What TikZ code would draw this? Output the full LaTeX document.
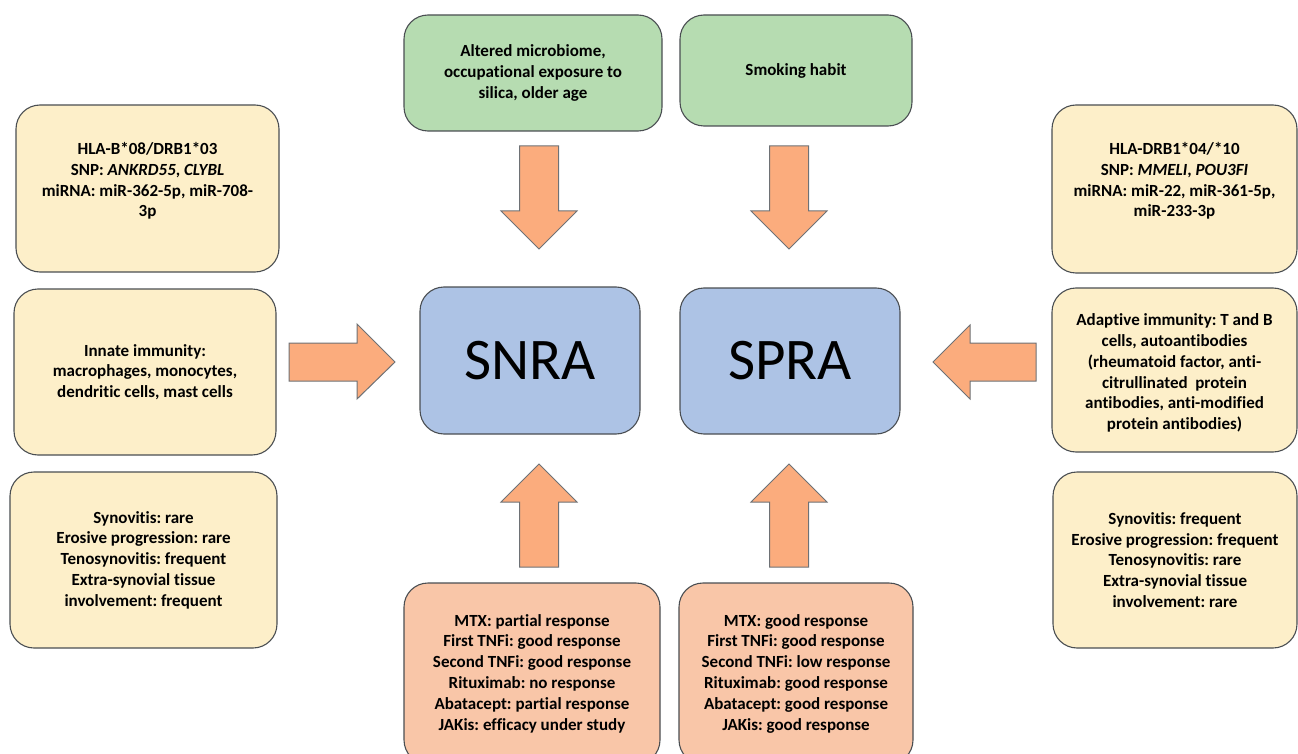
\documentclass[tikz,border=0pt]{standalone}
\usepackage{fontspec}
\setmainfont{Carlito}[Ligatures=NoCommon]
\frenchspacing
\definecolor{beige}{HTML}{FDEFC9}
\definecolor{greenbox}{HTML}{B6DCB1}
\definecolor{bluebox}{HTML}{ADC3E5}
\definecolor{salmonbox}{HTML}{F9C6A8}
\definecolor{arrowfill}{HTML}{FBAC7D}
\definecolor{edge}{HTML}{4A4E52}
\begin{document}
\begin{tikzpicture}[x=1pt,y=-1pt,
  txt/.style={align=center, inner sep=0pt, font=\fontsize{17}{20.8}\selectfont\bfseries},
  base/.style={draw=edge, line width=1.1pt, rounded corners=24pt, txt},
  ybox/.style={base, fill=beige},
  gbox/.style={base, fill=greenbox},
  bbox/.style={draw=edge, line width=1.1pt, rounded corners=24pt, fill=bluebox, font=\fontsize{59}{70}\selectfont},
  sbox/.style={base, fill=salmonbox},
  blockarrow/.style={draw=edge!80, line width=1pt, fill=arrowfill, line join=miter}]
\useasboundingbox (0,0) rectangle (1298,754);

% left column
\node[ybox, minimum width=263pt, minimum height=167pt] (l1) at (147.5,188.5) {};
\node[txt] (l1t) at (147.5,181)
  {HLA-B*08/DRB1*03\\SNP: \textit{ANKRD55}, \textit{CLYBL}\\miRNA: miR-362-5p, miR-708-\\3p};
\node[ybox, minimum width=262pt, minimum height=166pt] (l2) at (145,372)
  {Innate immunity:\\macrophages, monocytes,\\dendritic cells, mast cells};
\node[ybox, minimum width=267pt, minimum height=176pt] (l3) at (143.5,560)
  {Synovitis: rare\\Erosive progression: rare\\Tenosynovitis: frequent\\Extra-synovial tissue\\involvement: frequent};

% right column
\node[ybox, minimum width=245pt, minimum height=168pt] (r1) at (1174.5,189) {};
\node[txt] (r1t) at (1174.5,181)
  {HLA-DRB1*04/*10\\SNP: \textit{MMELI}, \textit{POU3FI}\\miRNA: miR-22, miR-361-5p,\\miR-233-3p};
\node[ybox, minimum width=245pt, minimum height=164pt] (r2) at (1174.5,370) {};
\node[txt] (r2t) at (1174.5,373)
  {Adaptive immunity: T and B\\cells, autoantibodies\\(rheumatoid factor, anti-\\citrullinated\ \ protein\\antibodies, anti-modified\\protein antibodies)};
\node[ybox, minimum width=244pt, minimum height=176pt] (r3) at (1175,560)
  {Synovitis: frequent\\Erosive progression: frequent\\Tenosynovitis: rare\\Extra-synovial tissue\\involvement: rare};

% top green
\node[gbox, minimum width=258pt, minimum height=116pt] (g1) at (533,73)
  {Altered microbiome,\\occupational exposure to\\silica, older age};
\node[gbox, minimum width=232pt, minimum height=111pt] (g2) at (796,70.5)
  {Smoking habit};

% center
\node[bbox, minimum width=220pt, minimum height=147pt] (snra) at (530,360.5) {SNRA};
\node[bbox, minimum width=220pt, minimum height=146pt] (spra) at (790,361) {SPRA};

% bottom salmon
\node[sbox, minimum width=256pt, minimum height=181pt] (b1) at (532,673.5)
  {MTX: partial response\\First TNFi: good response\\Second TNFi: good response\\Rituximab: no response\\Abatacept: partial response\\JAKis: efficacy under study};
\node[sbox, minimum width=234pt, minimum height=181pt] (b2) at (796,673.5)
  {MTX: good response\\First TNFi: good response\\Second TNFi: low response\\Rituximab: good response\\Abatacept: good response\\JAKis: good response};

% block arrows (down and up)
\foreach \cx in {539,789}{
  \draw[blockarrow] (\cx-19.5,146) -- (\cx+19.5,146) -- (\cx+19.5,211) -- (\cx+38,211)
    -- (\cx,249) -- (\cx-38,211) -- (\cx-19.5,211) -- cycle;
  \draw[blockarrow] (\cx-19.5,567) -- (\cx+19.5,567) -- (\cx+19.5,502) -- (\cx+38,502)
    -- (\cx,464) -- (\cx-38,502) -- (\cx-19.5,502) -- cycle;
}
% right-pointing arrow
\draw[blockarrow] (289,343) -- (357,343) -- (357,324) -- (395,362) -- (357,399) -- (357,381) -- (289,381) -- cycle;
% left-pointing arrow
\draw[blockarrow] (1036,343) -- (970,343) -- (970,325) -- (933,362) -- (970,399) -- (970,381) -- (1036,381) -- cycle;
\end{tikzpicture}
\end{document}
